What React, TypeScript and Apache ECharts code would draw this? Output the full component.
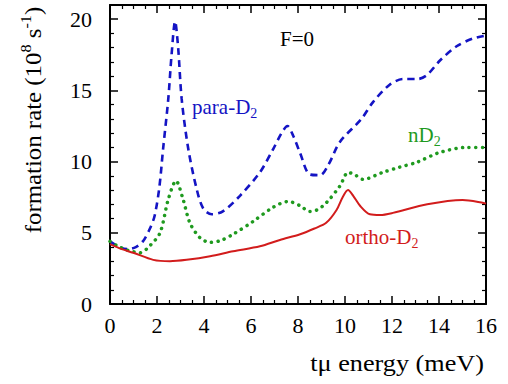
import React, { useEffect, useRef } from "react";
import * as echarts from "echarts";

const FONT = "'Liberation Serif', 'Times New Roman', serif";

const X_TICKS = [0, 2, 4, 6, 8, 10, 12, 14, 16];
const Y_TICKS = [0, 5, 10, 15, 20];

const PARA_X = [0, 0.4, 0.75, 1.1, 1.4, 1.7, 1.9, 2.1, 2.26, 2.48, 2.62, 2.77, 2.9, 3.05, 3.33, 3.69, 3.97, 4.33, 4.8, 5.53, 6.38, 6.95, 7.3, 7.55, 7.8, 8.09, 8.5, 8.94, 9.3, 9.79, 10.7, 11.2, 11.9, 12.47, 13.1, 13.5, 14.04, 14.75, 15.45, 16];
const PARA_Y = [4.4, 4.0, 3.85, 4.0, 4.4, 5.3, 6.2, 8.2, 10.9, 14.4, 17.5, 19.85, 18.0, 14.4, 10.9, 8.06, 6.7, 6.3, 6.5, 7.6, 9.25, 10.9, 12.0, 12.5, 11.8, 10.6, 9.1, 9.05, 9.8, 11.4, 13.0, 14.2, 15.4, 15.8, 15.8, 16.1, 17.1, 18.1, 18.65, 18.85];

const ND2_X = [0, 0.4, 0.8, 1.28, 1.7, 2.13, 2.48, 2.81, 3.11, 3.4, 3.83, 4.26, 4.7, 5.24, 6.09, 6.95, 7.58, 8.09, 8.5, 8.8, 9.2, 9.79, 10.13, 10.4, 10.77, 11.6, 12.3, 13.05, 14.04, 15.2, 16];
const ND2_Y = [4.4, 4.0, 3.75, 3.6, 4.1, 5.0, 7.35, 8.65, 7.35, 5.7, 4.65, 4.33, 4.45, 4.9, 5.8, 6.8, 7.2, 6.9, 6.5, 6.6, 7.1, 8.3, 9.24, 9.1, 8.75, 9.24, 9.6, 9.95, 10.65, 11.0, 11.0];

const ORTHO_X = [0, 0.5, 0.99, 1.84, 2.55, 3.26, 4.26, 5.24, 6.38, 7.23, 8.09, 8.7, 9.2, 9.64, 9.9, 10.13, 10.35, 10.64, 11.06, 11.5, 12.04, 13.5, 15.0, 15.9, 16];
const ORTHO_Y = [4.2, 3.85, 3.6, 3.1, 3.0, 3.1, 3.35, 3.7, 4.05, 4.5, 4.9, 5.3, 5.7, 6.6, 7.5, 8.0, 7.6, 6.9, 6.3, 6.25, 6.4, 7.0, 7.3, 7.1, 7.05];

const BLUE = "#1414c4";
const GREEN = "#1f9a1f";
const RED = "#d21c1c";

type Seg = { t: string; s?: "sup" | "sub" };

const measure = (() => {
  const ctx = document.createElement("canvas").getContext("2d")!;
  return (text: string, size: number) => {
    ctx.font = `${size}px ${FONT}`;
    return ctx.measureText(text).width;
  };
})();

function richText(segs: Seg[], size: number, color: string, align: "left" | "center" | "right") {
  const small = Math.round(size * 0.66);
  const widths = segs.map((s) => measure(s.t, s.s ? small : size));
  const total = widths.reduce((a, b) => a + b, 0);
  let x = align === "left" ? 0 : align === "center" ? -total / 2 : -total;
  const children: any[] = [];
  segs.forEach((s, i) => {
    const fs = s.s ? small : size;
    const dy = s.s === "sup" ? -size * 0.33 : s.s === "sub" ? size * 0.32 : 0;
    children.push({
      type: "text",
      x,
      y: dy,
      silent: true,
      style: {
        text: s.t,
        fontSize: fs,
        fontFamily: FONT,
        fill: color,
        align: "left",
        verticalAlign: "middle",
        textAlign: "left",
        textVerticalAlign: "middle",
      },
    });
    x += widths[i];
  });
  return children;
}

const zip = (xs: number[], ys: number[]) => xs.map((x, i) => [x, ys[i]]);

export default function App() {
  const ref = useRef<HTMLDivElement>(null);
  useEffect(() => {
    const chart = echarts.init(ref.current!, undefined, { renderer: "svg" });
    const axisCommon = {
      type: "value" as const,
      axisLine: { show: true, onZero: false, lineStyle: { color: "#000", width: 2 } },
      axisTick: { show: true, inside: true, length: 8, lineStyle: { color: "#000", width: 1.5 } },
      minorTick: { show: true, length: 4, lineStyle: { color: "#000", width: 1.2 } },
      splitLine: { show: false },
    };
    const xLabel = {
      margin: 10,
      fontSize: 22,
      color: "#000",
      fontFamily: FONT,
      formatter: (v: number) => (X_TICKS.includes(v) ? String(v) : ""),
    };
    const yLabel = {
      margin: 18,
      fontSize: 22,
      color: "#000",
      fontFamily: FONT,
      formatter: (v: number) => (Y_TICKS.includes(v) ? String(v) : ""),
    };
    chart.setOption({
      animation: false,
      grid: { left: 110, right: 22, top: 5, bottom: 80 },
      xAxis: [
        { ...axisCommon, min: 0, max: 16, interval: 2, minorTick: { ...axisCommon.minorTick, splitNumber: 4 }, axisLabel: xLabel },
        { ...axisCommon, position: "top", min: 0, max: 16, interval: 2, minorTick: { ...axisCommon.minorTick, splitNumber: 4 }, axisLabel: { show: false } },
      ],
      yAxis: [
        { ...axisCommon, min: 0, max: 21, interval: 5, minorTick: { ...axisCommon.minorTick, splitNumber: 5 }, axisLabel: yLabel },
        { ...axisCommon, position: "right", min: 0, max: 21, interval: 5, minorTick: { ...axisCommon.minorTick, splitNumber: 5 }, axisLabel: { show: false } },
      ],
      series: [
        {
          name: "para-D2",
          type: "line",
          data: zip(PARA_X, PARA_Y),
          showSymbol: false,
          smooth: 0.3,
          lineStyle: { color: BLUE, width: 2.6, type: [7, 5] },
        },
        {
          name: "nD2",
          type: "line",
          data: zip(ND2_X, ND2_Y),
          showSymbol: false,
          smooth: 0.3,
          lineStyle: { color: GREEN, width: 3.5, type: [0.1, 6.5], cap: "round" },
        },
        {
          name: "ortho-D2",
          type: "line",
          data: zip(ORTHO_X, ORTHO_Y),
          showSymbol: false,
          smooth: 0.3,
          lineStyle: { color: RED, width: 2 },
        },
      ],
    });

    const px = (x: number, y: number) => chart.convertToPixel({ gridIndex: 0 }, [x, y]) as number[];
    const pF = px(7.96, 18.6);
    const pPara = px(3.49, 13.85);
    const pN = px(12.68, 11.87);
    const pO = px(10.0, 4.73);

    chart.setOption({
      graphic: [
        { type: "group", x: pF[0], y: pF[1], children: richText([{ t: "F=0" }], 21, "#000", "center") },
        { type: "group", x: pPara[0], y: pPara[1], children: richText([{ t: "para-D" }, { t: "2", s: "sub" }], 21, BLUE, "left") },
        { type: "group", x: pN[0], y: pN[1], children: richText([{ t: "nD" }, { t: "2", s: "sub" }], 21, GREEN, "left") },
        { type: "group", x: pO[0], y: pO[1], children: richText([{ t: "ortho-D" }, { t: "2", s: "sub" }], 21, RED, "left") },
        {
          type: "group",
          x: 33,
          y: 120,
          rotation: Math.PI / 2,
          scaleX: 1.08,
          children: richText(
            [{ t: "formation rate (10" }, { t: "8", s: "sup" }, { t: " s" }, { t: "-1", s: "sup" }, { t: ")" }],
            23,
            "#000",
            "center"
          ),
        },
        {
          type: "group",
          x: 484,
          y: 363,
          scaleX: 1.14,
          children: richText([{ t: "t\u03bc energy (meV)" }], 23, "#000", "right"),
        },
      ],
    });
    return () => chart.dispose();
  }, []);
  return <div ref={ref} style={{ position: "absolute", left: 0, top: 0, width: 508, height: 384 }} />;
}
